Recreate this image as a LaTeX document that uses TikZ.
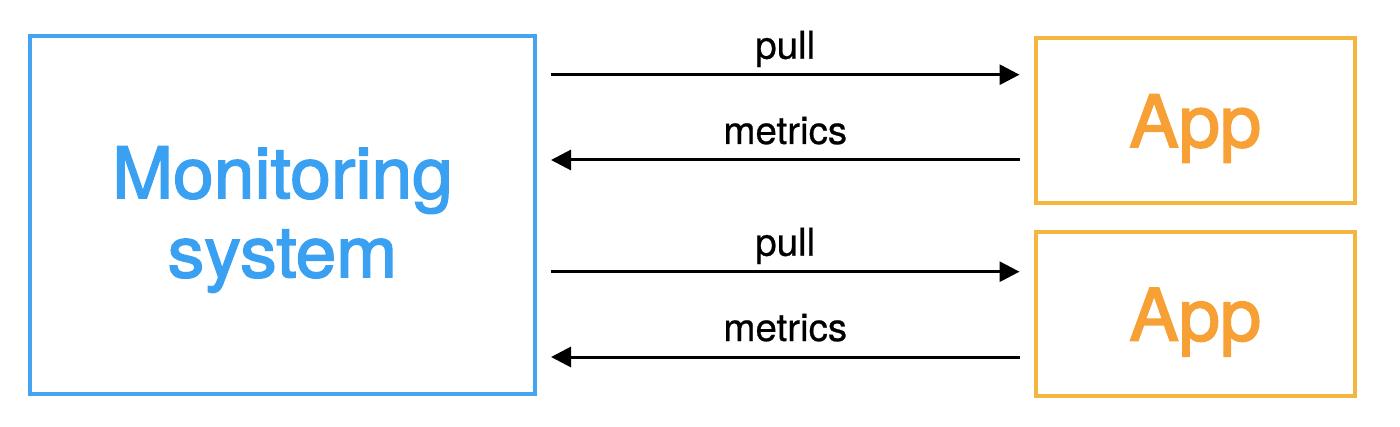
\documentclass[tikz,border=0pt]{standalone}
\usepackage{fontspec}
\setmainfont{TeX Gyre Heros}
\newfontfamily\bigfont[FakeBold=2.2,FakeStretch=1.03]{TeX Gyre Heros}
\newfontfamily\lblfont[FakeBold=0.6]{TeX Gyre Heros}
\usetikzlibrary{arrows.meta}
\definecolor{monblue}{HTML}{3AA0F2}
\definecolor{monborder}{HTML}{45A4F2}
\definecolor{apptext}{HTML}{F7A035}
\definecolor{appborder}{HTML}{F3B63E}
\tikzset{
  monbox/.style={draw=monborder, line width=2pt, rectangle, inner sep=0pt,
    minimum width=252.5pt, minimum height=178.75pt},
  appbox/.style={draw=appborder, line width=2pt, rectangle, inner sep=0pt,
    minimum width=159.75pt, minimum height=82.25pt, text=apptext,
    font=\bigfont\fontsize{36}{40}\selectfont, text height=26.5pt, text depth=0pt},
  montext/.style={text=monblue, align=center, inner sep=0pt,
    font=\bigfont\fontsize{35.5}{39.5}\selectfont},
  arr/.style={-{Triangle[length=10pt,width=10pt]}, line width=1.5pt, black,
    shorten <=7pt, shorten >=7pt},
  lbl/.style={anchor=base, yshift=8pt, inner sep=0pt, text=black,
    font=\lblfont\fontsize{19.25}{22}\selectfont}
}
\begin{document}
\begin{tikzpicture}[x=0.5pt,y=-0.5pt]
\useasboundingbox (0,0) rectangle (1400,427);
\node[monbox] (mon) at (282.5,214.75) {};
\node[montext] (mtxt) at ([yshift=-2.4pt]mon.center) {Monitoring\\system};
\node[appbox] (app1) at (1195.25,120.5) {App};
\node[appbox] (app2) at (1195.25,314) {App};
\coordinate (p1) at (0,74.7);
\coordinate (m1) at (0,160);
\coordinate (p2) at (0,271.7);
\coordinate (m2) at (0,357);
\draw[arr] (mon.east |- p1) -- node[lbl] {pull} (app1.west |- p1);
\draw[arr] (app1.west |- m1) -- node[lbl] {metrics} (mon.east |- m1);
\draw[arr] (mon.east |- p2) -- node[lbl] {pull} (app2.west |- p2);
\draw[arr] (app2.west |- m2) -- node[lbl] {metrics} (mon.east |- m2);
\end{tikzpicture}
\end{document}
